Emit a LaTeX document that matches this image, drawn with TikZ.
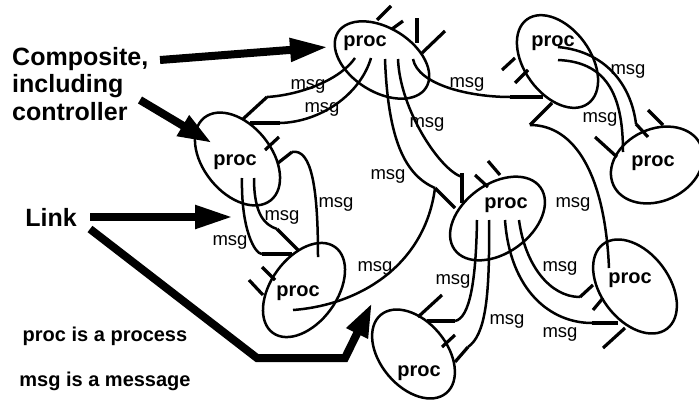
\documentclass[tikz,border=0pt]{standalone}
\usepackage{fontspec}
\setmainfont{Liberation Sans}
\usetikzlibrary{arrows.meta,shapes.geometric}
\tikzset{
        proc/.style={ellipse,draw,line width=2.5pt,inner sep=0pt},
        proclabel/.style={font=\fontsize{20}{24}\selectfont\bfseries},
        msglabel/.style={font=\fontsize{18.5}{22}\selectfont},
        msgline/.style={line width=2.5pt},
        port/.style={line width=3.2pt},
        bigarrow/.style={line width=8pt,line join=miter,-{Triangle[length=#1,width=22pt]}},
        bigarrow/.default=38pt
    }

\begin{document}
\begin{tikzpicture}[x=1pt,y=-1pt]
    \useasboundingbox (0,0) rectangle (699,402);
    % processes
    \node[proc,minimum width=104pt,minimum height=64pt,rotate=-32] (p1) at (382,60) {};
    \node[proc,minimum width=104pt,minimum height=66pt,rotate=-54] (p2) at (557.5,61.5) {};
    \node[proc,minimum width=96pt,minimum height=72pt,rotate=25] (p3) at (657,165) {};
    \node[proc,minimum width=106pt,minimum height=68pt,rotate=-51] (p4) at (237.5,159) {};
    \node[proc,minimum width=106pt,minimum height=66pt,rotate=54] (p5) at (304,290) {};
    \node[proc,minimum width=106pt,minimum height=69pt,rotate=36] (p6) at (497.5,218.5) {};
    \node[proc,minimum width=106pt,minimum height=68pt,rotate=-53] (p7) at (635,286.5) {};
    \node[proc,minimum width=102pt,minimum height=66pt,rotate=-50] (p8) at (413.5,354) {};
    \node[proclabel] (t1) at (365,43) {proc};
    \node[proclabel] (t2) at (553,43) {proc};
    \node[proclabel] (t3) at (653,163) {proc};
    \node[proclabel] (t4) at (235,162) {proc};
    \node[proclabel] (t5) at (298,293) {proc};
    \node[proclabel] (t6) at (506,205) {proc};
    \node[proclabel] (t7) at (630,280) {proc};
    \node[proclabel] (t8) at (419,373) {proc};

    % message ends
    \coordinate (p1o1) at (355,58);
    \coordinate (p1o2) at (371,58);
    \coordinate (p1o3) at (385,59);
    \coordinate (p1o4) at (398,59);
    \coordinate (p1o5) at (413,59);
    \coordinate (p2o1) at (558,47);
    \coordinate (p2o2) at (558,60);
    \coordinate (p2i1) at (543,97);
    \coordinate (p2p) at (552,103);
    \coordinate (p3i1) at (648,137);
    \coordinate (p3i2) at (623,152);
    \coordinate (p4i1) at (243,119);
    \coordinate (p4i2) at (250,123);
    \coordinate (p4p) at (278,163);
    \coordinate (p4o1) at (242,178);
    \coordinate (p4o2) at (254,178);
    \coordinate (p5i1) at (318,257);
    \coordinate (p5i2) at (292,254);
    \coordinate (p5i3) at (298,250);
    \coordinate (p5o1) at (293,310);
    \coordinate (p6k) at (435,188);
    \coordinate (p6i1) at (455,208);
    \coordinate (p6i2) at (462,177);
    \coordinate (p6o1) at (477,220);
    \coordinate (p6o2) at (489,220);
    \coordinate (p6o3) at (505,220);
    \coordinate (p6o4) at (519,220);
    \coordinate (p7i1) at (609,268);
    \coordinate (p7i2) at (618,323);
    \coordinate (p7i3) at (593,285);
    \coordinate (p8i1) at (427,321);
    \coordinate (p8i2) at (455,362);

    % messages
    \draw[msgline] (p1o1) .. controls (340,80) and (300,95) .. (267,97) edge[port] (p4i1);
    \draw[msgline] (p1o2) .. controls (360,95) and (320,122) .. (280,123) edge[port] (p4i2);
    \draw[msgline] (p1o3) .. controls (388,140) and (405,175) .. (p6k) edge[port] (p6i1);
    \draw[msgline] (p1o4) .. controls (400,110) and (440,170) .. (p6i2);
    \draw[port] (462,173) -- (462,203);
    \draw[msgline] (p1o5) .. controls (418,85) and (470,97) .. (510,97) edge[port] (p2i1);
    \draw[msgline] (p2o1) .. controls (610,52) and (632,90) .. (636,124) edge[port] (p3i1);
    \draw[msgline] (p2o2) .. controls (610,62) and (623,100) .. (p3i2);
    \draw[msgline] (p7i1) .. controls (605,175) and (575,125) .. (530,125) edge[port] (p2p);
    \draw[msgline] (p5i1) .. controls (318,190) and (312,148) .. (292,152) edge[port] (p4p);
    \draw[msgline] (p4o1) .. controls (241,230) and (255,254) .. (262,254) edge[port] (p5i2);
    \draw[msgline] (p4o2) .. controls (254,215) and (265,225) .. (277,229) edge[port] (p5i3);
    \draw[msgline] (p5o1) .. controls (360,305) and (425,265) .. (p6k);
    \draw[msgline] (p6o1) .. controls (476,280) and (470,318) .. (455,321) edge[port] (p8i1);
    \draw[msgline] (p6o2) .. controls (490,300) and (485,335) .. (468,347) edge[port] (p8i2);
    \draw[msgline] (p6o3) .. controls (510,290) and (550,323) .. (592,323) edge[port] (p7i2);
    \draw[msgline] (p6o4) .. controls (525,265) and (550,297) .. (580,297) edge[port] (p7i3);

    % free ports
    \foreach \xa/\ya/\xb/\yb in {377/20/391/6, 392/29/403/21, 417/18/417/43, 422/53/445/31,
            502/70/515/58, 515/83/528/70, 648/110/663/125, 595/137/617/157,
            265/150/279/137, 262/267/275/280, 249/280/263/295,
            475/175/488/187, 488/161/500/175, 593/310/603/298, 603/348/625/328,
            418/317/442/295, 442/347/455/335}
        \draw[port] (\xa,\ya) -- (\xb,\yb);

    \node[msglabel] (m1) at (308,86) {msg};
    \node[msglabel] (m2) at (322,109) {msg};
    \node[msglabel] (m3) at (467,84) {msg};
    \node[msglabel] (m4) at (427,124) {msg};
    \node[msglabel] (m5) at (388,176) {msg};
    \node[msglabel] (m6) at (628,71) {msg};
    \node[msglabel] (m7) at (600,119) {msg};
    \node[msglabel] (m8) at (336,204) {msg};
    \node[msglabel] (m9) at (282,217) {msg};
    \node[msglabel] (m10) at (230,242) {msg};
    \node[msglabel] (m11) at (375,268) {msg};
    \node[msglabel] (m12) at (573,204) {msg};
    \node[msglabel] (m13) at (453,281) {msg};
    \node[msglabel] (m14) at (507,321) {msg};
    \node[msglabel] (m15) at (560,268) {msg};
    \node[msglabel] (m16) at (560,334) {msg};

    % captions and pointers
    \node[font=\fontsize{25}{27.5}\selectfont\bfseries,align=left,anchor=base west,inner sep=0pt] (composite) at (12,120) {Composite,\\including\\controller};
    \node[font=\fontsize{25}{30}\selectfont\bfseries] (link) at (51,217) {Link};
    \node[font=\fontsize{20}{24}\selectfont\bfseries] (legend1) at (105,336) {proc is a process};
    \node[font=\fontsize{20}{24}\selectfont\bfseries] (legend2) at (105,381) {msg is a message};
    \coordinate (a1s) at (160,60);
    \coordinate (a1e) at (328,47);
    \coordinate (a2s) at (140,100);
    \coordinate (a2e) at (212,143);
    \coordinate (a3s) at (90,217);
    \coordinate (a3e) at (233,217);
    \coordinate (a4s) at (90,229);
    \coordinate (a4e) at (372,303);
    \draw[bigarrow] (a1s) -- (a1e);
    \draw[bigarrow=34pt] (a2s) -- (a2e);
    \draw[bigarrow] (a3s) -- (a3e);
    \draw[bigarrow=34pt] (a4s) -- (257,358) -- (345,358) -- (a4e);
\end{tikzpicture}
\end{document}
